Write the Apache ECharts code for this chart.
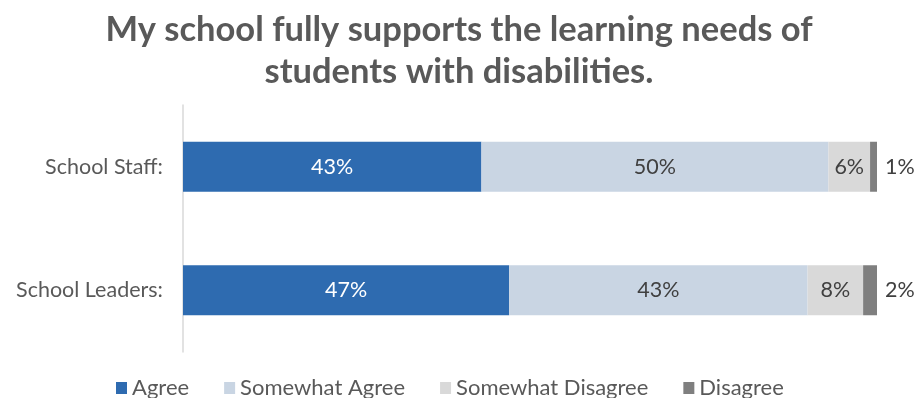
<!DOCTYPE html>
<html>
<head>
<meta charset="utf-8">
<script src="https://cdn.jsdelivr.net/npm/echarts@6/dist/echarts.min.js"></script>
<style>
  html, body { margin: 0; padding: 0; background: #fff; }
  #chart { width: 918px; height: 398px; }
</style>
</head>
<body>
<div id="chart"></div>
<script>
// Survey groups, listed bottom-to-top for the category axis
const categories = ['School Leaders:', 'School Staff:'];
const seriesNames = ['Agree', 'Somewhat Agree', 'Somewhat Disagree', 'Disagree'];
const agree = [47, 43];
const somewhatAgree = [43, 50];
const somewhatDisagree = [8, 6];
const disagree = [2, 1];

const colors = ['#2E6BB0', '#C9D5E3', '#D9D9D9', '#7F7F7F'];
const values = [agree, somewhatAgree, somewhatDisagree, disagree];
const FONT = 'Lato, "Noto Sans", sans-serif';

const chart = echarts.init(document.getElementById('chart'));

const series = seriesNames.map((name, i) => ({
  name,
  type: 'bar',
  stack: 'total',
  barWidth: 50,
  data: values[i],
  itemStyle: { color: colors[i] },
  label: {
    show: true,
    position: i === 3 ? 'right' : 'inside',
    distance: 8,
    formatter: '{c}%',
    color: i === 0 ? '#ffffff' : '#404040',
    fontFamily: FONT,
    fontSize: 21.5
  },
  emphasis: { disabled: true }
}));

chart.setOption({
  animation: false,
  title: {
    text: 'My school fully supports the learning needs of\nstudents with disabilities.',
    left: 'center',
    top: 4,
    padding: [5, 5, 5, 14],
    textStyle: {
      fontFamily: FONT,
      fontWeight: 'bold',
      fontSize: 34.5,
      lineHeight: 42,
      color: '#595959'
    }
  },
  legend: {
    bottom: -6,
    left: 111,
    icon: 'rect',
    itemWidth: 11,
    itemHeight: 12,
    itemGap: 35,
    textStyle: { fontFamily: FONT, fontSize: 22, color: '#595959' },
    data: seriesNames
  },
  grid: { left: 183, right: 41, top: 105, bottom: 46 },
  xAxis: {
    type: 'value',
    min: 0,
    max: 100,
    show: false
  },
  yAxis: {
    type: 'category',
    data: categories,
    axisLine: { show: true, lineStyle: { color: '#D9D9D9', width: 1.5 } },
    axisTick: { show: false },
    axisLabel: {
      margin: 20,
      fontFamily: FONT,
      fontSize: 21.5,
      color: '#595959'
    }
  },
  series
});
</script>
</body>
</html>
